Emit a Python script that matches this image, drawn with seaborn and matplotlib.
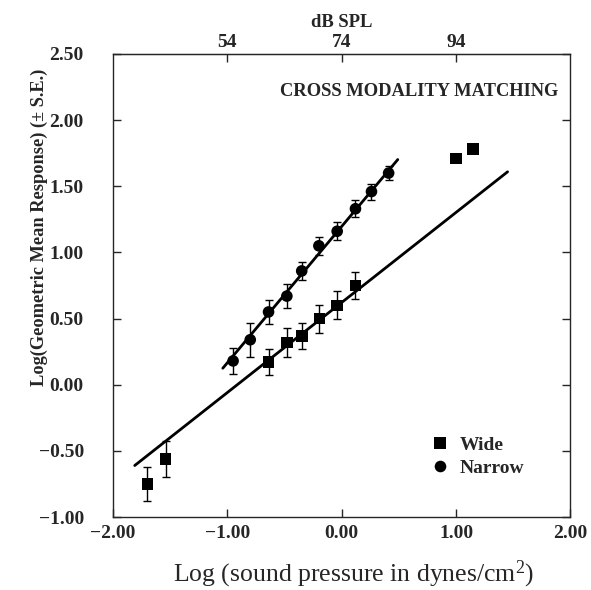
import numpy as np
import pandas as pd
import matplotlib
matplotlib.use("Agg")
import matplotlib.pyplot as plt
import seaborn as sns

# Narrow band (circles)
narrow_x = [-0.95, -0.80, -0.64, -0.48, -0.35, -0.20, -0.04, 0.12, 0.26, 0.41]
narrow_y = [0.18, 0.34, 0.55, 0.67, 0.86, 1.05, 1.16, 1.33, 1.46, 1.60]
narrow_se = [0.10, 0.13, 0.09, 0.09, 0.07, 0.07, 0.067, 0.063, 0.06, 0.055]

# Wide band (squares)
wide_x = [-1.70, -1.54, -0.64, -0.48, -0.35, -0.195, -0.04, 0.12, 1.00, 1.15]
wide_y = [-0.75, -0.56, 0.17, 0.32, 0.37, 0.50, 0.60, 0.75, 1.71, 1.78]
wide_se = [0.126, 0.136, 0.10, 0.11, 0.10, 0.106, 0.106, 0.103, 0.0, 0.0]

# fitted lines: (x start, x end, slope, intercept)
narrow_fit = (-1.04, 0.49, 1.031, 1.197)
wide_fit = (-1.81, 1.45, 0.681, 0.622)

top_ticks = [-1.0, 0.0, 1.0]
top_labels = ["54", "74", "94"]

sns.set_style("ticks")
plt.rcParams["font.family"] = ["Liberation Serif", "DejaVu Serif"]
plt.rcParams["font.weight"] = "bold"
plt.rcParams["mathtext.fontset"] = "custom"
plt.rcParams["mathtext.rm"] = "Liberation Serif"
plt.rcParams["mathtext.it"] = "Liberation Serif:italic"
plt.rcParams["mathtext.bf"] = "Liberation Serif:bold"

df = pd.concat([
    pd.DataFrame({"x": wide_x, "y": wide_y, "se": wide_se, "group": "Wide"}),
    pd.DataFrame({"x": narrow_x, "y": narrow_y, "se": narrow_se, "group": "Narrow"}),
], ignore_index=True)

fig = plt.figure(figsize=(5.91, 5.90), dpi=100)
ax = fig.add_axes([0.1912, 0.1237, 0.7741, 0.7848])

# regression lines
for fit in (narrow_fit, wide_fit):
    fx = np.array([fit[0], fit[1]])
    sns.lineplot(x=fx, y=fit[3] + fit[2] * fx, color="black", lw=2.0, ax=ax)

# error bars
eb = df[df["se"] > 0]
ax.errorbar(eb["x"], eb["y"], yerr=eb["se"], fmt="none", ecolor="black",
            elinewidth=1.0, capsize=3, capthick=1.0)

sns.scatterplot(data=df, x="x", y="y", style="group", markers={"Wide": "s", "Narrow": "o"},
                color="black", s=70, edgecolor="black", linewidth=0, ax=ax, zorder=5)

ax.set_xlim(-2, 2)
ax.set_ylim(-1, 2.5)
ax.set_xticks([-2, -1, 0, 1, 2])
ax.set_xticklabels(["\u22122.00", "\u22121.00", "0.00", "1.00", "2.00"])
yt = np.arange(-1.0, 2.51, 0.5)
ax.set_yticks(yt)
ax.set_yticklabels([f"{v:.2f}".replace("-", "\u2212") for v in yt])
ax.tick_params(direction="in", length=6, width=1, labelsize=14, right=True, top=False)
ax.tick_params(axis="y", pad=21)
ax.tick_params(axis="x", pad=6)
for lab in ax.get_xticklabels() + ax.get_yticklabels():
    lab.set_fontweight("bold")
for sp in ax.spines.values():
    sp.set_linewidth(1.0)

ax.set_xlabel(r"Log (sound pressure in dynes/cm$^{\mathregular{2}}$)", fontsize=18.5, fontweight="normal")
ax.xaxis.set_label_coords(0.525, -0.091)
ax.set_ylabel("Log(Geometric Mean Response) (\u00b1 S.E.)", fontsize=13.2, fontweight="bold")
ax.yaxis.set_label_coords(-0.142, 0.626)

sec = ax.secondary_xaxis("top")
sec.set_xticks(top_ticks)
sec.set_xticklabels(top_labels)
sec.tick_params(direction="in", length=6, width=1, labelsize=14, pad=2.5)
for lab in sec.get_xticklabels():
    lab.set_fontweight("bold")
sec.set_xlabel("dB SPL", fontsize=13.4, fontweight="bold", labelpad=4.5)

ax.text(0.973, 0.918, "CROSS MODALITY MATCHING", transform=ax.transAxes, ha="right", va="center",
        fontsize=13.3, fontweight="bold")

handles, labels = ax.get_legend_handles_labels()
leg = ax.legend(handles, labels, loc="upper left", bbox_to_anchor=(0.655, 0.213), frameon=False,
                prop={"size": 14, "weight": "bold"}, handletextpad=0.5, labelspacing=0.3,
                handlelength=1.0)

fig.savefig("out.png", dpi=100)
